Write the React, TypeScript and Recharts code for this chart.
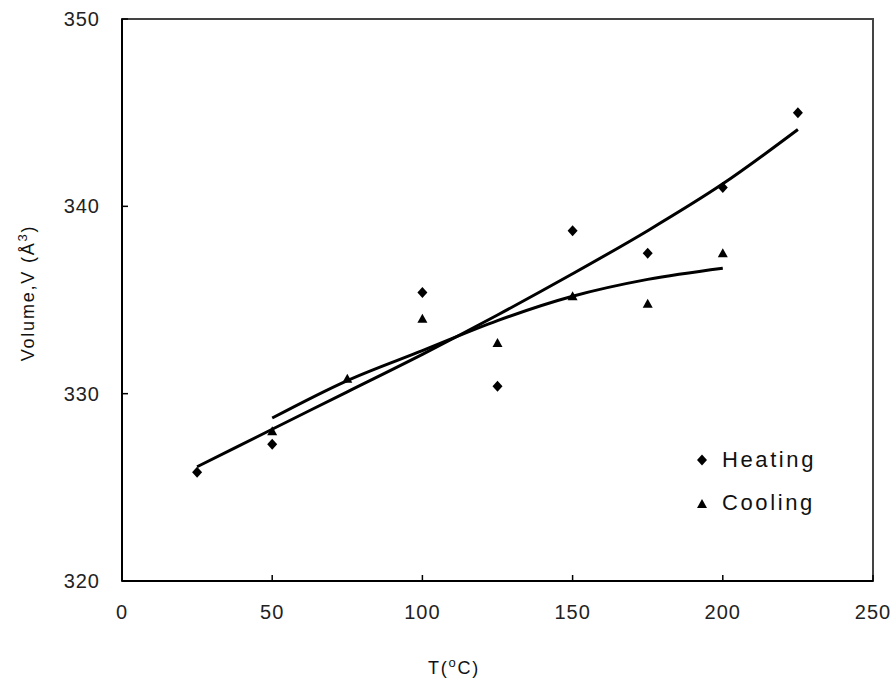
import React from "react";
import { ComposedChart, Scatter, XAxis, YAxis, ReferenceArea } from "recharts";

// measured points, temperature in °C, volume in Å³
const heatingT = [25, 50, 100, 125, 150, 175, 200, 225];
const heatingV = [325.8, 327.3, 335.4, 330.4, 338.7, 337.5, 341.0, 345.0];
const coolingT = [50, 75, 100, 125, 150, 175, 200];
const coolingV = [328.0, 330.8, 334.0, 332.7, 335.2, 334.8, 337.5];

// trend lines
const heatingFitT = [25, 50, 75, 100, 125, 150, 175, 200, 225];
const heatingFitV = [326.1, 328.1, 330.1, 332.1, 334.2, 336.4, 338.7, 341.2, 344.1];
const coolingFitT = [50, 75, 100, 125, 150, 175, 200];
const coolingFitV = [328.7, 330.7, 332.3, 333.9, 335.2, 336.1, 336.7];

const xTicks = [0, 50, 100, 150, 200, 250];
const yTicks = [320, 330, 340, 350];
const seriesNames = ["Heating", "Cooling"];

const zip = (xs: number[], ys: number[]) => xs.map((x, i) => ({ x, y: ys[i] }));

const heating = zip(heatingT, heatingV);
const cooling = zip(coolingT, coolingV);
const heatingFit = zip(heatingFitT, heatingFitV);
const coolingFit = zip(coolingFitT, coolingFitV);

const FONT = "'Liberation Sans', Arial, sans-serif";

const Diamond = (props: any) => {
  const { cx, cy } = props;
  if (cx == null || cy == null) return null;
  return <polygon points={`${cx},${cy - 5.5} ${cx + 5},${cy} ${cx},${cy + 5.5} ${cx - 5},${cy}`} fill="#000" />;
};

const Triangle = (props: any) => {
  const { cx, cy } = props;
  if (cx == null || cy == null) return null;
  return <polygon points={`${cx},${cy - 5} ${cx + 5},${cy + 4} ${cx - 5},${cy + 4}`} fill="#000" />;
};

const NoDot = () => null;

const LegendBox = () => (
  <div
    style={{
      position: "absolute",
      left: 695,
      top: 438,
      fontFamily: FONT,
      fontSize: 22,
      letterSpacing: 2.6,
      color: "#111",
      lineHeight: "43px",
    }}
  >
    {seriesNames.map((name, i) => (
      <div key={name} style={{ display: "flex", alignItems: "center" }}>
        <svg width={14} height={14} style={{ marginRight: 13 }}>
          {i === 0 ? <Diamond cx={7} cy={7} /> : <Triangle cx={7} cy={8} />}
        </svg>
        <span>{name}</span>
      </div>
    ))}
  </div>
);

const YLabel = () => (
  <text
    x={34}
    y={293}
    transform="rotate(-90, 34, 293)"
    textAnchor="middle"
    fontFamily={FONT}
    fontSize={18}
    letterSpacing={1.8}
    fill="#111"
  >
    Volume,V (Å<tspan dy={-7} fontSize={13}>3</tspan>
    <tspan dy={7}>)</tspan>
  </text>
);

const XLabel = () => (
  <text x={454} y={674} textAnchor="middle" fontFamily={FONT} fontSize={18} letterSpacing={1.8} fill="#111">
    T(<tspan dy={-7} fontSize={13}>o</tspan>
    <tspan dy={7}>C)</tspan>
  </text>
);

export default function App() {
  return (
    <div style={{ position: "absolute", left: 0, top: 0, width: 896, height: 682, background: "#fff" }}>
      <ComposedChart width={896} height={682} margin={{ top: 19, right: 23, bottom: 0, left: 0 }}>
        <ReferenceArea x1={0} x2={250} y1={320} y2={350} fill="none" stroke="#444" strokeWidth={2} />
        <XAxis
          type="number"
          dataKey="x"
          domain={[0, 250]}
          ticks={xTicks}
          height={101}
          axisLine={{ stroke: "#000", strokeWidth: 2 }}
          tickLine={{ stroke: "#000", strokeWidth: 1.5 }}
          tickSize={-6}
          tickMargin={30}
          tick={{ fontFamily: FONT, fontSize: 20, fill: "#222", letterSpacing: 1 }}
          label={<XLabel />}
        />
        <YAxis
          type="number"
          dataKey="y"
          domain={[320, 350]}
          ticks={yTicks}
          width={122}
          axisLine={{ stroke: "#000", strokeWidth: 2 }}
          tickLine={{ stroke: "#000", strokeWidth: 1.5 }}
          tickSize={-6}
          tickMargin={28}
          tick={{ fontFamily: FONT, fontSize: 20, fill: "#222", letterSpacing: 1 }}
          label={<YLabel />}
        />
        <Scatter
          name="Heating fit"
          data={heatingFit}
          line={{ stroke: "#000", strokeWidth: 3 }}
          lineJointType="monotoneX"
          shape={NoDot}
          legendType="none"
          isAnimationActive={false}
        />
        <Scatter
          name="Cooling fit"
          data={coolingFit}
          line={{ stroke: "#000", strokeWidth: 3 }}
          lineJointType="monotoneX"
          shape={NoDot}
          legendType="none"
          isAnimationActive={false}
        />
        <Scatter name="Heating" data={heating} shape={Diamond} isAnimationActive={false} />
        <Scatter name="Cooling" data={cooling} shape={Triangle} isAnimationActive={false} />
      </ComposedChart>
      <LegendBox />
    </div>
  );
}
